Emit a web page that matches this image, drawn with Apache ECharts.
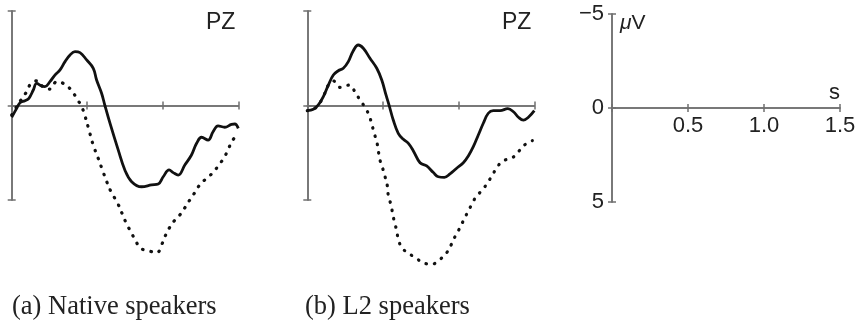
<!DOCTYPE html>
<html>
<head>
<meta charset="utf-8">
<script src="https://cdn.jsdelivr.net/npm/echarts@6/dist/echarts.min.js"></script>
<style>
  html, body { margin: 0; background: #fff; }
  #chart { width: 865px; height: 322px; }
</style>
</head>
<body>
<div id="chart"></div>
<script>
// time in s, amplitude in µV (negative plotted up)
const nativeSolidT = [0, 0.033, 0.055, 0.088, 0.114, 0.143, 0.165, 0.198, 0.22, 0.253, 0.286, 0.32, 0.353, 0.386, 0.419, 0.452, 0.496, 0.54, 0.562, 0.595, 0.617, 0.651, 0.705, 0.749, 0.794, 0.86, 0.926, 0.97, 1.003, 1.042, 1.069, 1.102, 1.146, 1.19, 1.224, 1.257, 1.3, 1.333, 1.366, 1.41, 1.455, 1.477, 1.5];
const nativeSolidV = [0.62, 0.15, -0.15, -0.25, -0.38, -0.82, -1.17, -1.03, -1.0, -1.26, -1.61, -1.88, -2.32, -2.67, -2.85, -2.8, -2.41, -1.97, -1.35, -0.65, 0, 0.95, 2.35, 3.41, 4.03, 4.3, 4.2, 4.15, 3.77, 3.41, 3.55, 3.68, 3.15, 2.62, 2.0, 1.68, 1.83, 1.39, 1.08, 1.15, 1.0, 0.98, 1.21];

const nativeDotT = [0, 0.033, 0.066, 0.099, 0.128, 0.17, 0.21, 0.253, 0.298, 0.353, 0.397, 0.43, 0.463, 0.485, 0.51, 0.54, 0.573, 0.6, 0.63, 0.66, 0.7, 0.73, 0.76, 0.79, 0.82, 0.853, 0.91, 0.963, 0.992, 1.014, 1.042, 1.075, 1.113, 1.146, 1.179, 1.212, 1.245, 1.29, 1.333, 1.371, 1.406, 1.433, 1.459, 1.492];
const nativeDotV = [0.5, 0.06, -0.35, -0.73, -1.17, -1.31, -0.96, -0.87, -1.26, -1.12, -0.78, -0.38, 0.06, 0.55, 1.25, 2.1, 2.8, 3.4, 4.05, 4.6, 5.15, 5.7, 6.25, 6.7, 7.15, 7.55, 7.7, 7.77, 7.38, 6.94, 6.5, 6.11, 5.79, 5.41, 5.0, 4.61, 4.2, 3.85, 3.55, 3.15, 2.76, 2.32, 1.88, 1.56];

const l2SolidT = [0, 0.04, 0.073, 0.106, 0.139, 0.172, 0.205, 0.238, 0.271, 0.304, 0.337, 0.37, 0.414, 0.459, 0.492, 0.52, 0.542, 0.568, 0.601, 0.635, 0.668, 0.7, 0.745, 0.789, 0.833, 0.866, 0.906, 0.943, 0.987, 1.031, 1.064, 1.097, 1.13, 1.163, 1.196, 1.229, 1.274, 1.325, 1.362, 1.395, 1.428, 1.461, 1.5];
const l2SolidV = [0.27, 0.2, -0.03, -0.47, -1.08, -1.61, -1.84, -1.97, -2.32, -2.9, -3.2, -3.03, -2.5, -1.97, -1.35, -0.56, 0.03, 0.77, 1.47, 1.79, 2.0, 2.39, 3.03, 3.2, 3.55, 3.77, 3.8, 3.62, 3.32, 3.03, 2.67, 2.18, 1.56, 0.94, 0.41, 0.27, 0.27, 0.17, 0.33, 0.62, 0.77, 0.62, 0.27];

const l2DotT = [0, 0.04, 0.073, 0.106, 0.139, 0.172, 0.216, 0.278, 0.315, 0.348, 0.386, 0.41, 0.426, 0.441, 0.459, 0.469, 0.48, 0.498, 0.514, 0.529, 0.535, 0.551, 0.564, 0.575, 0.591, 0.601, 0.624, 0.661, 0.712, 0.773, 0.826, 0.877, 0.921, 0.95, 0.976, 1.003, 1.031, 1.058, 1.087, 1.115, 1.157, 1.192, 1.223, 1.256, 1.295, 1.351, 1.395, 1.435, 1.487];
const l2DotV = [0.27, 0.2, -0.03, -0.47, -1.08, -1.3, -0.96, -1.08, -0.73, -0.29, 0.15, 0.56, 0.98, 1.44, 1.91, 2.39, 2.88, 3.32, 3.77, 4.26, 4.74, 5.21, 5.7, 6.15, 6.62, 7.08, 7.5, 7.79, 8.03, 8.35, 8.39, 8.14, 7.79, 7.38, 6.94, 6.55, 6.1, 5.67, 5.23, 4.83, 4.47, 4.08, 3.68, 3.24, 2.92, 2.79, 2.44, 2.09, 1.86];

const yTicks = [-5, 0, 5];
const xTicks = [0, 0.5, 1.0, 1.5];

const pair = (t, v) => t.map((x, i) => [x, v[i]]);

const AXIS = '#707070';
const SANS = 'Liberation Sans';

const grids = [
  { left: 11.7, top: 11, width: 226.6, height: 189 },
  { left: 307.3, top: 11, width: 227, height: 189 },
  { left: 612, top: 14, width: 228, height: 188 }
];

// two axes per direction so ticks cross the axis line;
// the x axis is shifted up from the bottom to the 0 µV level
const xAxes = [], yAxes = [];
grids.forEach((g, gi) => {
  [false, true].forEach(inside => {
    xAxes.push({
      type: 'value', gridIndex: gi, position: 'bottom', offset: -g.height / 2,
      min: xTicks[0], max: xTicks[xTicks.length - 1], interval: 0.5,
      axisLine: { show: true, onZero: false, lineStyle: { color: AXIS, width: 1.5 } },
      axisTick: { show: true, inside: inside, length: 4, lineStyle: { color: AXIS, width: 1.5 } },
      axisLabel: {
        show: gi === 2 && !inside, margin: 7, fontSize: 22, color: '#222', fontFamily: SANS,
        formatter: v => v === 0 ? '' : v.toFixed(1)
      },
      splitLine: { show: false }
    });
    yAxes.push({
      type: 'value', gridIndex: gi, inverse: true, position: 'left',
      min: yTicks[0], max: yTicks[yTicks.length - 1], interval: 5,
      axisLine: { show: true, onZero: false, lineStyle: { color: AXIS, width: 1.5 } },
      axisTick: { show: true, inside: inside, length: 4, lineStyle: { color: AXIS, width: 1.5 } },
      axisLabel: {
        show: gi === 2 && !inside, margin: 8, fontSize: 22, color: '#222', fontFamily: SANS,
        formatter: v => v < 0 ? '\u2212' + (-v) : String(v)
      },
      splitLine: { show: false }
    });
  });
});

function wave(data, gi, dotted) {
  return {
    type: 'line', data: data, xAxisIndex: gi * 2, yAxisIndex: gi * 2,
    showSymbol: false, smooth: 0.4, clip: false, silent: true,
    lineStyle: dotted
      ? { color: '#111', width: 3.2, type: [0.5, 8], cap: 'round' }
      : { color: '#111', width: 2.8 }
  };
}

const chart = echarts.init(document.getElementById('chart'));
chart.setOption({
  animation: false,
  grid: grids.map(g => Object.assign({ outerBoundsMode: 'none' }, g)),
  xAxis: xAxes,
  yAxis: yAxes,
  title: [
    { text: 'PZ', left: 206, top: 11, padding: 0, textStyle: { fontFamily: SANS, fontSize: 23, fontWeight: 'normal', color: '#222' } },
    { text: 'PZ', left: 502, top: 11, padding: 0, textStyle: { fontFamily: SANS, fontSize: 23, fontWeight: 'normal', color: '#222' } },
    { text: '(a) Native speakers', left: 12, top: 294, padding: 0, textStyle: { fontFamily: 'Liberation Serif', fontSize: 26.5, fontWeight: 'normal', color: '#222' } },
    { text: '(b) L2 speakers', left: 305, top: 294, padding: 0, textStyle: { fontFamily: 'Liberation Serif', fontSize: 26.5, fontWeight: 'normal', color: '#222' } },
    { text: '{i|\u03bc}V', left: 620, top: 13, padding: 0, textStyle: { fontFamily: SANS, fontSize: 21, fontWeight: 'normal', color: '#222', rich: { i: { fontFamily: SANS, fontSize: 21, fontStyle: 'italic', color: '#222' } } } },
    { text: 's', left: 829, top: 82, padding: 0, textStyle: { fontFamily: SANS, fontSize: 22, fontWeight: 'normal', color: '#222' } }
  ],
  series: [
    wave(pair(nativeDotT, nativeDotV), 0, true),
    wave(pair(nativeSolidT, nativeSolidV), 0, false),
    wave(pair(l2DotT, l2DotV), 1, true),
    wave(pair(l2SolidT, l2SolidV), 1, false)
  ]
});
</script>
</body>
</html>
